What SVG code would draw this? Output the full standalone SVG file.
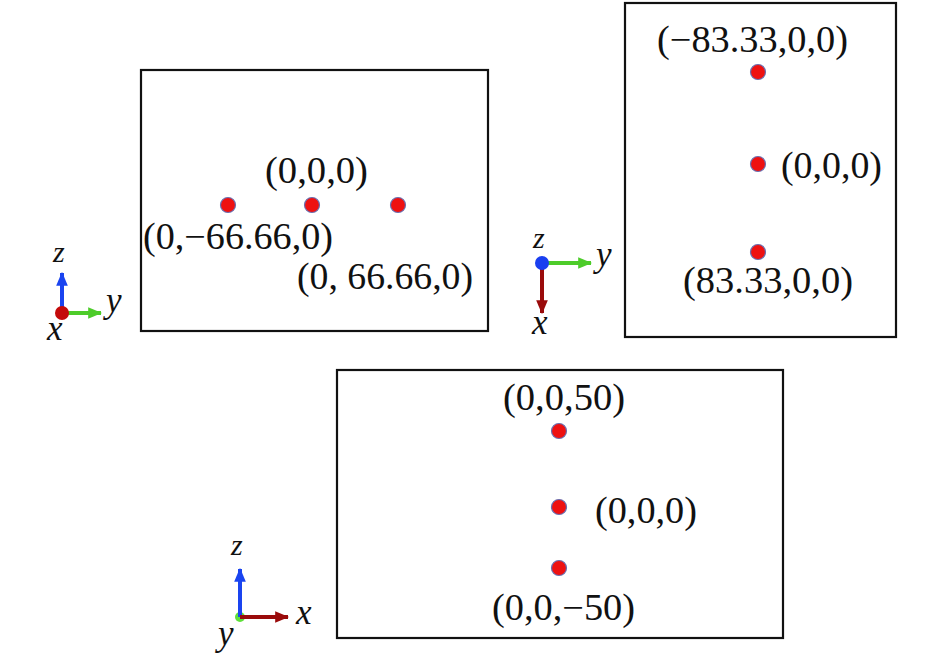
<svg xmlns="http://www.w3.org/2000/svg" width="945" height="661" viewBox="0 0 945 661">
<defs>
<style>
.box{fill:none;stroke:#111;stroke-width:2.2}
.pt{fill:#ee1111;stroke:#6a6fb0;stroke-width:1.2}
.blue{stroke:#1a44f0;stroke-width:4;fill:none}
.green{stroke:#4dcc2a;stroke-width:4;fill:none}
.dred{stroke:#9a0b0b;stroke-width:4;fill:none}
.lbl{font-family:"Liberation Serif","Times New Roman",serif;font-size:37px;fill:#111}
.ax{font-family:"Liberation Serif","Times New Roman",serif;font-size:35px;font-style:italic;fill:#111}
.axz{font-family:"Liberation Serif","Times New Roman",serif;font-size:30px;font-style:italic;fill:#111}
</style>
<marker id="hb" viewBox="0 0 12 10" refX="11" refY="5" markerWidth="3.5" markerHeight="3" orient="auto" markerUnits="strokeWidth"><path d="M0,0 L12,5 L0,10 z" fill="#1a44f0"/></marker>
<marker id="hg" viewBox="0 0 12 10" refX="11" refY="5" markerWidth="3.5" markerHeight="3" orient="auto" markerUnits="strokeWidth"><path d="M0,0 L12,5 L0,10 z" fill="#4dcc2a"/></marker>
<marker id="hr" viewBox="0 0 12 10" refX="11" refY="5" markerWidth="3.5" markerHeight="3" orient="auto" markerUnits="strokeWidth"><path d="M0,0 L12,5 L0,10 z" fill="#9a0b0b"/></marker>
</defs>

<g id="panel1">
<rect class="box" x="141" y="70" width="347" height="261"/>
<circle class="pt" cx="228" cy="205" r="7.5"/>
<circle class="pt" cx="312" cy="205" r="7.5"/>
<circle class="pt" cx="398" cy="205" r="7.5"/>
<text class="lbl" x="265" y="183" textLength="103" lengthAdjust="spacingAndGlyphs">(0,0,0)</text>
<text class="lbl" x="143" y="249" textLength="190" lengthAdjust="spacingAndGlyphs">(0,−66.66,0)</text>
<text class="lbl" x="297" y="289" textLength="176" lengthAdjust="spacingAndGlyphs">(0, 66.66,0)</text>
</g>

<g id="panel2">
<rect class="box" x="625" y="3" width="271" height="334"/>
<circle class="pt" cx="758" cy="72" r="7.5"/>
<circle class="pt" cx="758" cy="164" r="7.5"/>
<circle class="pt" cx="758" cy="252" r="7.5"/>
<text class="lbl" x="657" y="52" textLength="191" lengthAdjust="spacingAndGlyphs">(−83.33,0,0)</text>
<text class="lbl" x="781" y="178" textLength="101" lengthAdjust="spacingAndGlyphs">(0,0,0)</text>
<text class="lbl" x="683" y="293" textLength="170" lengthAdjust="spacingAndGlyphs">(83.33,0,0)</text>
</g>

<g id="panel3">
<rect class="box" x="337" y="370" width="446" height="268"/>
<circle class="pt" cx="559" cy="431" r="7.5"/>
<circle class="pt" cx="559" cy="507" r="7.5"/>
<circle class="pt" cx="559" cy="568" r="7.5"/>
<text class="lbl" x="503" y="410" textLength="122" lengthAdjust="spacingAndGlyphs">(0,0,50)</text>
<text class="lbl" x="595" y="523" textLength="102" lengthAdjust="spacingAndGlyphs">(0,0,0)</text>
<text class="lbl" x="492" y="620" textLength="143" lengthAdjust="spacingAndGlyphs">(0,0,−50)</text>
</g>

<g id="axes1">
<line class="blue" x1="62" y1="313" x2="62" y2="273" marker-end="url(#hb)"/>
<line class="green" x1="62" y1="313" x2="101" y2="313" marker-end="url(#hg)"/>
<circle cx="62" cy="313" r="7" fill="#c40a0a"/>
<text class="axz" x="53" y="262">z</text>
<text class="ax" x="106" y="312">y</text>
<text class="ax" x="47" y="340">x</text>
</g>

<g id="axes2">
<line class="green" x1="542" y1="263" x2="591" y2="263" marker-end="url(#hg)"/>
<line class="dred" x1="542" y1="263" x2="542" y2="313" marker-end="url(#hr)"/>
<circle cx="542" cy="263" r="7" fill="#1a3ff0"/>
<text class="axz" x="533" y="248">z</text>
<text class="ax" x="596" y="266">y</text>
<text class="ax" x="532" y="334">x</text>
</g>

<g id="axes3">
<circle cx="240" cy="617" r="5" fill="#5ee03a"/>
<line class="blue" x1="240" y1="617" x2="240" y2="569" marker-end="url(#hb)"/>
<line class="dred" x1="240" y1="617" x2="288" y2="617" marker-end="url(#hr)"/>
<text class="axz" x="231" y="555">z</text>
<text class="ax" x="296" y="624">x</text>
<text class="ax" x="218" y="645">y</text>
</g>
</svg>
